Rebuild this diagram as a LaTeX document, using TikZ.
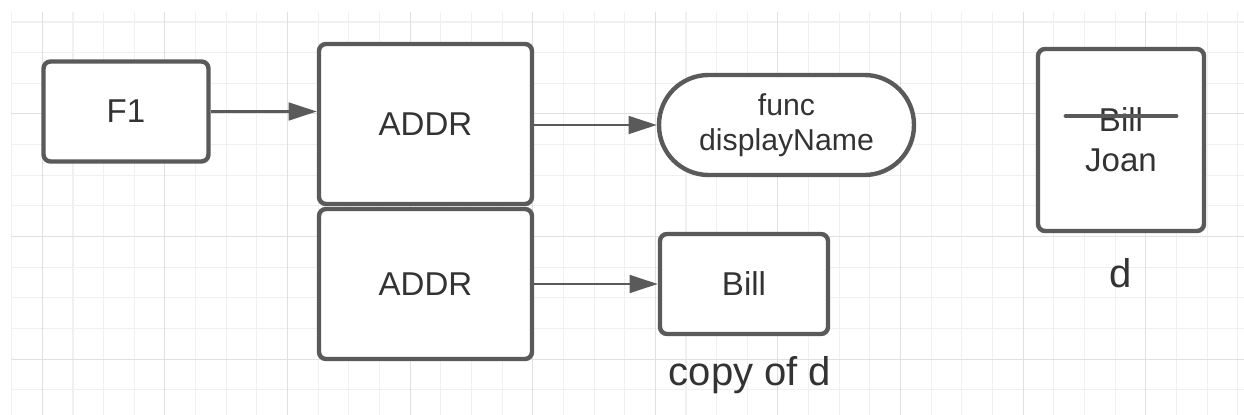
\documentclass[tikz,border=0pt]{standalone}
\usepackage{fontspec}
\setmainfont{Liberation Sans}
\usetikzlibrary{arrows.meta, positioning}
\definecolor{linegray}{RGB}{90, 90, 90}
\definecolor{textgray}{RGB}{51, 51, 51}
\definecolor{gridminor}{RGB}{240, 240, 240}
\definecolor{gridmajor}{RGB}{224, 224, 224}

\begin{document}
\begin{tikzpicture}[x=0.02cm, y=-0.02cm,
    box/.style={draw=linegray, line width=2.5pt, rounded corners=0.14cm, fill=white,
        text=textgray, font=\fontsize{18.8}{22.7}\selectfont, align=center, inner sep=0pt},
    pill/.style={box, rounded corners=0.99cm, font=\fontsize{17.2}{19.8}\selectfont},
    conn/.style={draw=linegray, line width=1.6pt, -{Triangle[length=16pt, width=10pt]}},
    caption/.style={text=textgray, font=\fontsize{22.8}{26}\selectfont, inner sep=0pt}]
            \useasboundingbox (0,0) rectangle (1244,415);
            \fill[white] (0,0) rectangle (1244,415);

            % Grid
            \foreach \k in {0,...,40}
                \draw[gridminor, line width=0.6pt] ({11.7+30.65*\k},12) -- ({11.7+30.65*\k},415);
            \foreach \j in {0,...,12}
                \draw[gridminor, line width=0.6pt] (11,{22+30.65*\j}) -- (1244,{22+30.65*\j});
            \foreach \k in {1,5,...,37}
                \draw[gridmajor, line width=0.6pt] ({11.7+30.65*\k},12) -- ({11.7+30.65*\k},415);
            \foreach \j in {3,7,11}
                \draw[gridmajor, line width=0.6pt] (11,{22+30.65*\j}) -- (1244,{22+30.65*\j});

            % Function and its addresses
            \node[box, minimum width=3.3cm, minimum height=2cm] (f1) at (126,111.5) {F1};
            \node[box, minimum width=4.26cm, minimum height=3.2cm] (addrTop) at (425.5,124) {ADDR};
            \node[box, minimum width=4.26cm, minimum height=3cm] (addrBot) at (425.5,284) {ADDR};

            % Targets
            \node[pill, minimum width=5.1cm, minimum height=2cm] (func) at (786.5,125) {func\\displayName};
            \node[box, minimum width=3.36cm, minimum height=2cm] (billCopy) at (744,284) {Bill};
            \node[caption, below=0.4cm of billCopy, xshift=0.12cm] (copyLbl) {copy of d};

            % Object d
            \node[box, minimum width=3.32cm, minimum height=3.64cm] (dBox) at (1121,140) {Bill\\Joan};
            \node[caption, below=0.5cm of dBox] (dLbl) {d};
            \coordinate (strikeL) at (1066,116);
            \coordinate (strikeR) at (1176,116);
            \draw[linegray, line width=2.8pt, line cap=round] (strikeL) -- (strikeR);

            % Arrows
            \draw[conn] (f1.east) -- (f1.east -| addrTop.west);
            \draw[conn] (addrTop.east |- func.west) -- (func.west);
            \draw[conn] (addrBot.east) -- (billCopy.west);
        \end{tikzpicture}
\end{document}
